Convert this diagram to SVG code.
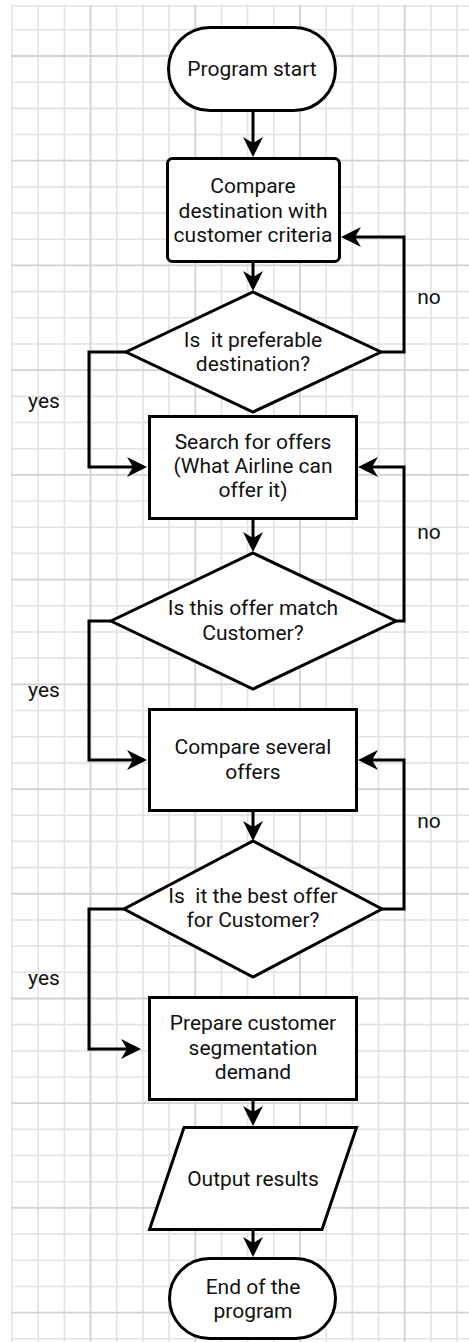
<svg xmlns="http://www.w3.org/2000/svg" width="469" height="1342" viewBox="0 0 469 1342">
  <style>
    .minor { stroke: #e3e3e3; stroke-width: 1.6; fill: none; }
    .major { stroke: #d2d2d2; stroke-width: 1.8; fill: none; }
    .shape { fill: #ffffff; stroke: #000000; stroke-width: 3; stroke-linejoin: miter; }
    .link { fill: none; stroke: #000000; stroke-width: 3; stroke-linejoin: miter; }
    text { font-family: Roboto, "Liberation Sans", sans-serif; font-size: 21px; fill: #111111; text-anchor: middle; }
    .pre { white-space: pre; }
  </style>
  <defs>
    <marker id="arrow" markerUnits="userSpaceOnUse" markerWidth="22" markerHeight="22" refX="8" refY="10" orient="auto" overflow="visible">
      <path d="M20,10 L0,0 L6,10 L0,20 Z" fill="#000000"/>
    </marker>
  </defs>

  <!-- paper background with grid -->
  <rect x="0" y="0" width="469" height="1342" fill="#ffffff"/>
  <g id="grid">
    <path class="minor" d="M12,6H469
      M12,5V1342 M38.18,5V1342 M64.36,5V1342 M116.72,5V1342 M142.9,5V1342 M169.08,5V1342
      M221.44,5V1342 M247.62,5V1342 M273.8,5V1342 M326.16,5V1342 M352.34,5V1342 M378.52,5V1342
      M430.88,5V1342 M457.06,5V1342
      M11,29.82H469 M11,82.18H469 M11,108.36H469 M11,134.54H469 M11,186.9H469 M11,213.08H469
      M11,239.26H469 M11,291.62H469 M11,317.8H469 M11,343.98H469 M11,396.34H469 M11,422.52H469
      M11,448.7H469 M11,501.06H469 M11,527.24H469 M11,553.42H469 M11,605.78H469 M11,631.96H469
      M11,658.14H469 M11,710.5H469 M11,736.68H469 M11,762.86H469 M11,815.22H469 M11,841.4H469
      M11,867.58H469 M11,919.94H469 M11,946.12H469 M11,972.3H469 M11,1024.66H469 M11,1050.84H469
      M11,1077.02H469 M11,1129.38H469 M11,1155.56H469 M11,1181.74H469 M11,1234.1H469 M11,1260.28H469
      M11,1286.46H469 M11,1338.82H469"/>
    <path class="major" d="M90.54,5V1342 M195.26,5V1342 M299.98,5V1342 M404.7,5V1342
      M11,56H469 M11,160.72H469 M11,265.44H469 M11,370.16H469 M11,474.88H469 M11,579.6H469
      M11,684.32H469 M11,789.04H469 M11,893.76H469 M11,998.48H469 M11,1103.2H469 M11,1207.92H469
      M11,1312.64H469"/>
  </g>

  <!-- connectors -->
  <g id="connectors">
    <path class="link" d="M253,111 V145" marker-end="url(#arrow)"/>
    <path class="link" d="M253,262 V279" marker-end="url(#arrow)"/>
    <path class="link" d="M381,352 H404 V237 H353" marker-end="url(#arrow)"/>
    <path class="link" d="M126,352 H89 V467 H135" marker-end="url(#arrow)"/>
    <path class="link" d="M253,519 V540" marker-end="url(#arrow)"/>
    <path class="link" d="M396,621 H404 V467 H370" marker-end="url(#arrow)"/>
    <path class="link" d="M111,621 H89 V760 H135" marker-end="url(#arrow)"/>
    <path class="link" d="M253,811 V829" marker-end="url(#arrow)"/>
    <path class="link" d="M382,909 H404 V760 H370" marker-end="url(#arrow)"/>
    <path class="link" d="M124,909 H89 V1049 H129" marker-end="url(#arrow)"/>
    <path class="link" d="M253,1100 V1114" marker-end="url(#arrow)"/>
    <path class="link" d="M253,1230 V1245" marker-end="url(#arrow)"/>
    <text x="429" y="304">no</text>
    <text x="429" y="539">no</text>
    <text x="429" y="828">no</text>
    <text x="44" y="408">yes</text>
    <text x="44" y="697">yes</text>
    <text x="44" y="985">yes</text>
  </g>

  <!-- nodes -->
  <g id="start">
    <rect class="shape" x="168.5" y="27.5" width="167" height="83" rx="41.5" ry="41.5"/>
    <text x="252" y="76">Program start</text>
  </g>
  <g id="compare-destination">
    <rect class="shape" x="167.5" y="158.5" width="172" height="103" rx="5" ry="5"/>
    <text x="253" y="193">Compare</text>
    <text x="253" y="218">destination with</text>
    <text x="253" y="242">customer criteria</text>
  </g>
  <g id="preferable-destination">
    <polygon class="shape" points="253,292 381,352 253,412 126,352"/>
    <text class="pre" x="253" y="347">Is  it preferable</text>
    <text x="253" y="371">destination?</text>
  </g>
  <g id="search-offers">
    <rect class="shape" x="149.5" y="416.5" width="207" height="102"/>
    <text x="253" y="449">Search for offers</text>
    <text x="253" y="473">(What Airline can</text>
    <text x="253" y="497">offer it)</text>
  </g>
  <g id="offer-match">
    <polygon class="shape" points="253,553 396,621 253,689 111,621"/>
    <text x="253" y="615">Is this offer match</text>
    <text x="253" y="640">Customer?</text>
  </g>
  <g id="compare-offers">
    <rect class="shape" x="149.5" y="709.5" width="207" height="101"/>
    <text x="253" y="754">Compare several</text>
    <text x="253" y="779">offers</text>
  </g>
  <g id="best-offer">
    <polygon class="shape" points="253,841 382,909 253,977 124,909"/>
    <text class="pre" x="253" y="903">Is  it the best offer</text>
    <text x="253" y="927">for Customer?</text>
  </g>
  <g id="prepare-demand">
    <rect class="shape" x="149.5" y="997.5" width="207" height="102"/>
    <text x="253" y="1030">Prepare customer</text>
    <text x="253" y="1055">segmentation</text>
    <text x="253" y="1079">demand</text>
  </g>
  <g id="output-results">
    <polygon class="shape" points="184,1127.5 356.5,1127.5 322,1229.5 149.5,1229.5"/>
    <text x="253" y="1186">Output results</text>
  </g>
  <g id="end">
    <rect class="shape" x="169.5" y="1258.5" width="166" height="80" rx="40" ry="40"/>
    <text x="253" y="1294">End of the</text>
    <text x="253" y="1318">program</text>
  </g>
</svg>
